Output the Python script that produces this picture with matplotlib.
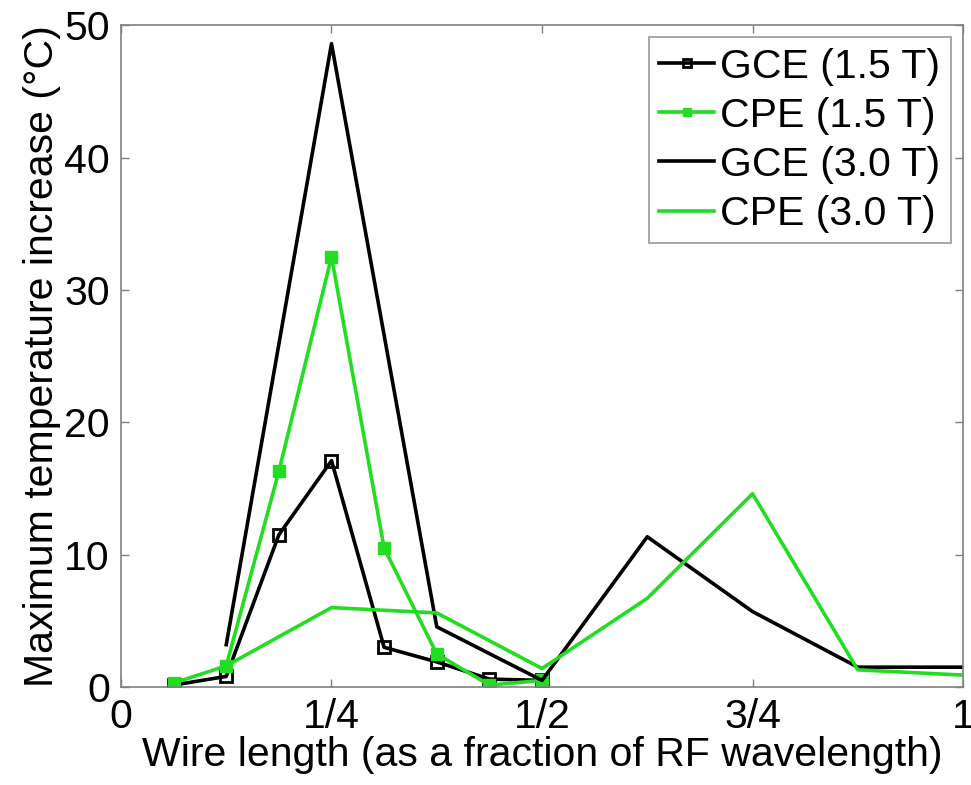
import matplotlib.pyplot as plt

plt.rcParams['font.family'] = ['Liberation Sans', 'DejaVu Sans']

# wire length as fraction of RF wavelength
x_15 = [0.0625, 0.125, 0.1875, 0.25, 0.3125, 0.375, 0.4375, 0.5]
gce_15 = [0.15, 0.8, 11.5, 17.1, 3.0, 1.9, 0.6, 0.5]
cpe_15 = [0.3, 1.6, 16.3, 32.5, 10.5, 2.5, 0.15, 0.5]

x_30 = [0.125, 0.25, 0.375, 0.5, 0.625, 0.75, 0.875, 1.0]
gce_30 = [3.2, 48.6, 4.55, 0.5, 11.35, 5.7, 1.5, 1.5]
cpe_30 = [1.6, 6.0, 5.6, 1.4, 6.7, 14.6, 1.3, 0.9]

xtick_pos = [0, 0.25, 0.5, 0.75, 1.0]
xtick_labels = ['0', '1/4', '1/2', '3/4', '1']
ytick_pos = [0, 10, 20, 30, 40, 50]

green = '#22dd22'
fs = 29.5

fig = plt.figure(figsize=(9.71, 7.85), dpi=100)
ax = fig.add_axes([0.1246, 0.1248, 0.8672, 0.8432])

ax.plot(x_15, gce_15, color='black', lw=2.6, marker='s', ms=8,
        mfc='none', mec='black', mew=2, label='GCE (1.5 T)')
ax.plot(x_15, cpe_15, color=green, lw=2.6, marker='s', ms=8,
        mfc=green, mec=green, label='CPE (1.5 T)')
ax.plot(x_30, gce_30, color='black', lw=2.6, label='GCE (3.0 T)')
ax.plot(x_30, cpe_30, color=green, lw=2.6, label='CPE (3.0 T)')

ax.set_xlim(0, 1)
ax.set_ylim(0, 50)
ax.set_xticks(xtick_pos)
ax.set_xticklabels(xtick_labels)
ax.set_yticks(ytick_pos)
ax.tick_params(direction='in', length=6, width=1, color='#808080',
               labelsize=fs, top=True, right=True, pad=8)
for s in ax.spines.values():
    s.set_color('#808080')
    s.set_linewidth(1.2)

ax.set_xlabel('Wire length (as a fraction of RF wavelength)', fontsize=fs, labelpad=0)
ax.set_ylabel('Maximum temperature increase (°C)', fontsize=fs, labelpad=2)

leg = ax.legend(loc='upper right', fontsize=fs, handlelength=1.35,
                handletextpad=0.15, borderpad=0.25, labelspacing=0.27,
                fancybox=False, borderaxespad=0.3, markerscale=0.8)
leg.get_frame().set_edgecolor('#808080')
leg.get_frame().set_linewidth(1.2)

fig.savefig('out.png', dpi=100)
